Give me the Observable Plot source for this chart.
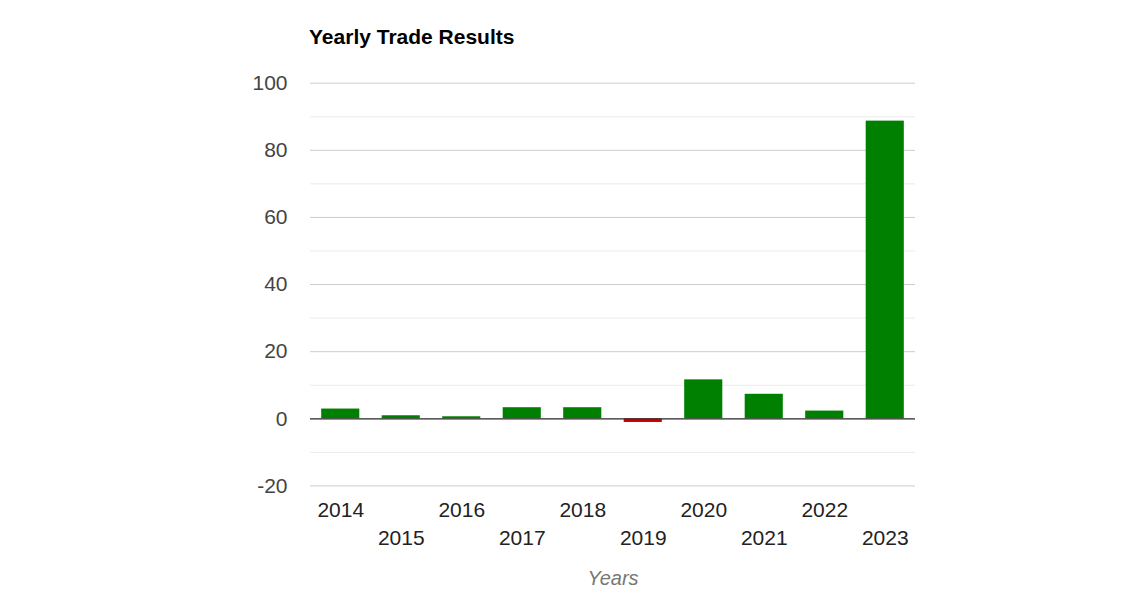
<!DOCTYPE html>
<html>
<head>
<meta charset="utf-8">
<script src="https://cdn.jsdelivr.net/npm/d3@7"></script>
<script src="https://cdn.jsdelivr.net/npm/@observablehq/plot@0.6"></script>
<style>
  html, body { margin: 0; padding: 0; background: #fff; }
  #wrap { position: relative; width: 1143px; height: 600px; font-family: Arial, "Liberation Sans", sans-serif; }
  #title { position: absolute; left: 309px; top: 25px; font-size: 21px; font-weight: bold; color: #000; }
  #chart { position: absolute; left: 0; top: 0; }
</style>
</head>
<body>
<div id="wrap">
  <div id="chart"></div>
  <div id="title">Yearly Trade Results</div>
</div>
<script>
const years = ["2014","2015","2016","2017","2018","2019","2020","2021","2022","2023"];
const values = [2.9, 0.9, 0.6, 3.3, 3.3, -1.1, 11.6, 7.3, 2.3, 88.7];
const majorTicks = [-20, 0, 20, 40, 60, 80, 100];
const minorTicks = [-10, 10, 30, 50, 70, 90];
const evenYears = ["2014","2016","2018","2020","2022"];
const oddYears = ["2015","2017","2019","2021","2023"];
const axisTitle = "Years";

const data = years.map((y, i) => ({year: y, value: values[i]}));

const chart = Plot.plot({
  width: 1143,
  height: 600,
  marginTop: 82.7,
  marginBottom: 114.6,
  marginLeft: 310,
  marginRight: 228,
  style: {fontFamily: "Arial, 'Liberation Sans', sans-serif", background: "transparent"},
  x: {domain: years, paddingInner: 0.37, paddingOuter: 0.185, round: false, axis: null},
  y: {domain: [-20, 100], axis: null},
  marks: [
    Plot.gridY(minorTicks, {stroke: "#ebebeb", strokeOpacity: 1, strokeWidth: 1}),
    Plot.gridY(majorTicks, {stroke: "#cccccc", strokeOpacity: 1, strokeWidth: 1}),
    Plot.barY(data, {x: "year", y: "value", fill: d => d.value < 0 ? "#cc0000" : "#008000"}),
    Plot.ruleY([0], {stroke: "#333", strokeWidth: 1.3}),
    Plot.axisY({ticks: majorTicks, tickSize: 0, tickPadding: 23, fontSize: 21, fill: "#444", label: null, tickFormat: d => String(d)}),
    Plot.axisX({ticks: evenYears, tickSize: 0, tickPadding: 16, fontSize: 21, fill: "#222", label: null}),
    Plot.axisX({ticks: oddYears, tickSize: 0, tickPadding: 44, fontSize: 21, fill: "#222", label: null}),
    Plot.text([axisTitle], {frameAnchor: "bottom", dy: 93, text: d => d, fontSize: 20, fontStyle: "italic", fill: "#777", lineAnchor: "middle"})
  ]
});
document.getElementById("chart").appendChild(chart);
</script>
</body>
</html>
